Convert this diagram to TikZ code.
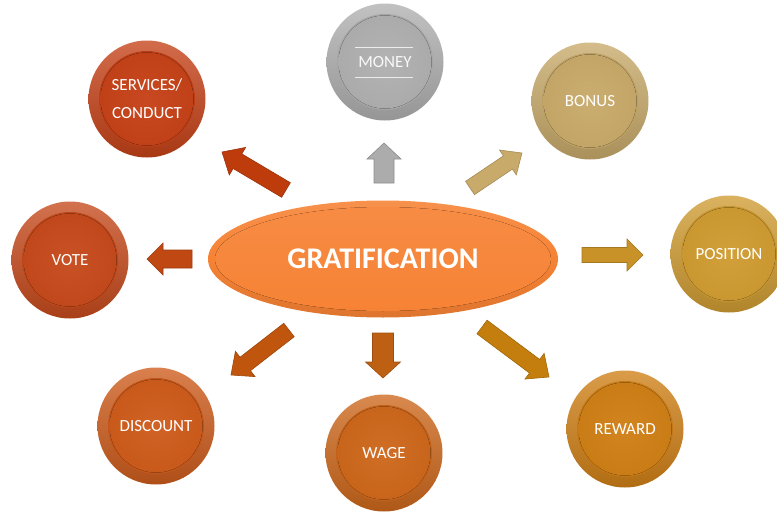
\documentclass[tikz,border=0pt]{standalone}
\usepackage{fontspec}
\setmainfont{Carlito}
\usetikzlibrary{calc,shapes.geometric}
\definecolor{cServ}{RGB}{198,66,24}
\definecolor{cVote}{RGB}{198,74,28}
\definecolor{cDisc}{RGB}{206,92,28}
\definecolor{cWage}{RGB}{206,104,28}
\definecolor{cRew}{RGB}{208,128,22}
\definecolor{cPos}{RGB}{208,156,50}
\definecolor{cBon}{RGB}{200,170,106}
\definecolor{cMon}{RGB}{176,176,176}
\definecolor{cEll}{RGB}{246,130,52}
\definecolor{aServ}{RGB}{190,60,12}
\definecolor{aVote}{RGB}{192,72,18}
\definecolor{aDisc}{RGB}{192,86,14}
\definecolor{aWage}{RGB}{190,96,20}
\definecolor{aRew}{RGB}{196,126,14}
\definecolor{aPos}{RGB}{200,146,40}
\definecolor{aBon}{RGB}{200,170,106}
\definecolor{aMon}{RGB}{172,172,172}
\newcommand\blockarr[6]{%
  \coordinate (#1n) at ($(#2)!#5!(#1)$);
  \filldraw[#6] ($(#1)!#3!90:(#2)$) -- ($(#1n)!#3!90:(#2)$) -- ($(#1n)!#4!90:(#2)$)
    -- (#2) -- ($(#1n)!#4!-90:(#2)$) -- ($(#1n)!#3!-90:(#2)$) -- ($(#1)!#3!-90:(#2)$) -- cycle;}
\tikzset{
  btn/.style={circle, minimum size=117pt, inner sep=0pt, align=center, text=white,
    font=\fontsize{17}{28}\selectfont,
    top color=#1!78!white, bottom color=#1!85!black,
    path picture={
      \fill[#1!94!black] (path picture bounding box.center) circle (48pt);
      \fill[inner color=#1!96!white, outer color=#1!97!black] (path picture bounding box.center) circle (46.5pt);
    }},
  arr/.style={fill=#1, draw=#1!82!black, line width=0.6pt, line join=miter},
}
\begin{document}
\begin{tikzpicture}[x=1pt,y=-1pt]
\useasboundingbox (0,0) rectangle (777,514);
% central ellipse
\node[ellipse, minimum width=350pt, minimum height=117pt, inner sep=0pt,
  top color=cEll!88!white, bottom color=cEll!90!black, middle color=cEll,
  path picture={\fill[top color=cEll!92!white, bottom color=cEll] (path picture bounding box.center) ellipse (168pt and 52pt);},
  text=white, font=\bfseries\fontsize{30}{32}\selectfont] (grat) at (383,259) {GRATIFICATION};
% buttons
\node[btn=cServ] (serv) at (147,99) {SERVICES/\\CONDUCT};
\node[btn=cMon, text=white!95!gray] (mon) at (385,62) {MONEY};
\draw[white!85!gray, line width=0.7pt] ($(mon)+(-30,-15)$) coordinate (m1) -- ($(mon)+(28,-15)$) coordinate (m2);
\draw[white!85!gray, line width=0.7pt] ($(mon)+(-30,15)$) coordinate (m3) -- ($(mon)+(28,15)$) coordinate (m4);
\node[btn=cBon] (bon) at (590,101) {BONUS};
\node[btn=cVote] (vote) at (70,260) {VOTE};
\node[btn=cPos] (pos) at (729,254) {POSITION};
\node[btn=cDisc] (disc) at (156,426) {DISCOUNT};
\node[btn=cWage] (wage) at (384,453) {WAGE};
\node[btn=cRew] (rew) at (625,429) {REWARD};
% block arrows
\coordinate (t1) at (286,190); \coordinate (h1) at (222,152);
\blockarr{t1}{h1}{8.5pt}{16pt}{18pt}{arr=aServ}
\coordinate (t2) at (384,183); \coordinate (h2) at (384,143);
\blockarr{t2}{h2}{10pt}{17pt}{16pt}{arr=aMon}
\coordinate (t3) at (470,188); \coordinate (h3) at (522,153);
\blockarr{t3}{h3}{8pt}{15pt}{17pt}{arr=aBon}
\coordinate (t4) at (192,259); \coordinate (h4) at (147,259);
\blockarr{t4}{h4}{9pt}{16pt}{16pt}{arr=aVote}
\coordinate (t5) at (582,255); \coordinate (h5) at (643,255);
\blockarr{t5}{h5}{7.5pt}{16pt}{16pt}{arr=aPos}
\coordinate (t6) at (289,330); \coordinate (h6) at (231,375);
\blockarr{t6}{h6}{8.5pt}{16pt}{18pt}{arr=aDisc}
\coordinate (t7) at (383,333); \coordinate (h7) at (383,378);
\blockarr{t7}{h7}{10.5pt}{17.5pt}{16pt}{arr=aWage}
\coordinate (t8) at (482,327); \coordinate (h8) at (549,377);
\blockarr{t8}{h8}{8.5pt}{16pt}{18pt}{arr=aRew}
\end{tikzpicture}
\end{document}
